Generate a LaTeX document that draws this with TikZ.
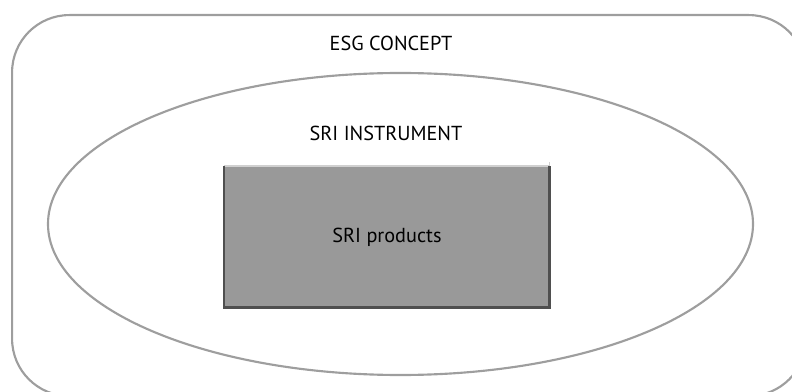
\documentclass[tikz,border=0pt]{standalone}
\usepackage{fontspec}
\setmainfont{PT Sans}
\usetikzlibrary{shapes.geometric}
\definecolor{linegray}{HTML}{9E9E9E}
\definecolor{boxgray}{HTML}{999999}
\definecolor{boxedge}{HTML}{4F4F4F}
\definecolor{boxtop}{HTML}{D0D0D0}
\tikzset{
  outline/.style={draw=linegray, line width=1.6pt},
  lbl/.style={font=\fontsize{15.2pt}{18pt}\selectfont, text=black, inner sep=0pt},
}
\begin{document}
\begin{tikzpicture}[x=0.75pt,y=-0.75pt]
\useasboundingbox (0,0) rectangle (792,392);
\clip (0,0) rectangle (792,392);
\node[outline, rectangle, rounded corners=43pt, minimum width=595.5pt, minimum height=285.75pt, inner sep=0pt, anchor=north west] (esg) at (11,14) {};
\node[outline, ellipse, minimum width=528.75pt, minimum height=226.5pt, inner sep=0pt] (sri) at (400.5,224) {};
\node[rectangle, fill=boxgray, minimum width=243.75pt, minimum height=105.75pt, inner sep=0pt, anchor=north west] (prod) at (224,166) {};
\draw[boxtop, line width=1.2pt] (prod.north west) -- (prod.north east);
\draw[boxedge, line width=1.8pt] (prod.north west) -- (prod.south west) -- (prod.south east) -- (prod.north east);
\draw[boxtop, line width=1pt] (prod.north east) -- ++(0,-4);
\node[lbl] (t1) at (391,43) {ESG CONCEPT};
\node[lbl] (t2) at (386,133) {SRI INSTRUMENT};
\node[lbl] (t3) at (387,237) {SRI products};
\end{tikzpicture}
\end{document}
